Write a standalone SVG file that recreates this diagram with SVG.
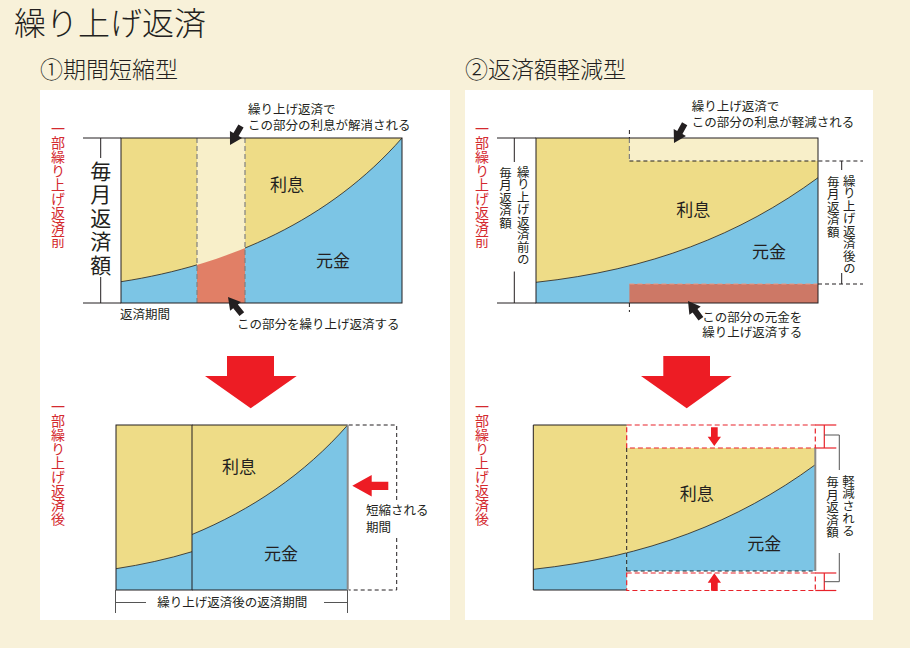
<svg xmlns="http://www.w3.org/2000/svg" width="910" height="648" viewBox="0 0 910 648">
<defs>
<style>
text{font-family:'Noto Sans CJK JP','Noto Sans',sans-serif;fill:#231f20}
.ttl{font-size:32px;font-weight:300}
.sub{font-size:23px;font-weight:300}
.lbl{font-size:17px}
.ann{font-size:12.5px}
.big{font-size:21px;letter-spacing:2.5px}
.red{fill:#d42a2f;font-size:14px}
.v{writing-mode:vertical-rl}
.mid{text-anchor:middle}
.yel{fill:#eedc87}
.blu{fill:#7cc5e5}
.pale{fill:#f8efc9}
.ln{stroke:#231f20;stroke-width:1;fill:none}
.dash{stroke:#231f20;stroke-width:1;stroke-dasharray:4 3;fill:none}
.gdash{stroke:#808080;stroke-width:1.2;stroke-dasharray:5 3;fill:none}
.rdash{stroke:#e8222a;stroke-width:1.2;stroke-dasharray:5 3;fill:none}
.pdash{stroke:#ec9a86;stroke-width:1.2;stroke-dasharray:5 3;fill:none}
.rln{stroke:#e8222a;stroke-width:1.2;fill:none}
.gln{stroke:#555;stroke-width:1;fill:none}
.edge{stroke:#8a8a8a;stroke-width:2;fill:none}
.curve{stroke:#231f20;stroke-width:0.8;fill:none}
.rarrow{fill:#ed1c24}
.barrow{fill:#231f20}
</style>
<clipPath id="clipBlueL"><path d="M121,303 L121,281.7 C230,265 330,220 402,138 L402,303 Z"/></clipPath>
<clipPath id="clipLeftBlock"><rect x="536" y="138" width="93.4" height="165"/></clipPath>
<clipPath id="clipRightBand"><rect x="629.4" y="161" width="188.6" height="123"/></clipPath>
<polygon id="barr" points="0,0 -12,-7 -12,-3 -22,-3 -22,3 -12,3 -12,7"/>
</defs>

<rect x="0" y="0" width="910" height="648" fill="#f8f1d9"/>

<g id="title">
<text class="ttl" x="14" y="35">繰り上げ返済</text>
<text class="sub" x="40" y="78">①期間短縮型</text>
<text class="sub" x="465" y="78">②返済額軽減型</text>
</g>

<g id="panel-left">
<rect x="40" y="90" width="410" height="530" fill="#ffffff"/>
<text class="red v" x="58" y="122">一部繰り上げ返済前</text>
<text class="red v" x="58" y="400">一部繰り上げ返済後</text>
</g>

<g id="panel-right">
<rect x="465" y="90" width="408" height="530" fill="#ffffff"/>
<text class="red v" x="482" y="122">一部繰り上げ返済前</text>
<text class="red v" x="482" y="400">一部繰り上げ返済後</text>
</g>

<g id="chart-period-before">
<rect class="yel" x="121" y="138" width="281" height="165"/>
<path class="blu" d="M121,303 L121,281.7 C230,265 330,220 402,138 L402,303 Z"/>
<path class="curve" d="M121,281.7 C230,265 330,220 402,138"/>
<rect class="pale" x="197" y="138" width="48" height="165"/>
<rect x="197" y="138" width="48" height="165" fill="#e17f66" clip-path="url(#clipBlueL)"/>
<line class="gdash" x1="197" y1="138" x2="197" y2="303"/>
<line class="gdash" x1="245" y1="138" x2="245" y2="303"/>
<rect class="ln" x="121" y="138" width="281" height="165"/>
<line class="ln" x1="83" y1="138" x2="121" y2="138"/>
<line class="ln" x1="83" y1="303" x2="121" y2="303"/>
<line class="ln" x1="100.7" y1="138" x2="100.7" y2="158"/>
<line class="ln" x1="100.7" y1="277" x2="100.7" y2="303"/>
<text class="big v" x="100.7" y="160.5">毎月返済額</text>
<text class="lbl mid" x="287" y="190.5">利息</text>
<text class="lbl mid" x="333" y="266.5">元金</text>
<text class="ann" x="120" y="318.5">返済期間</text>
<text class="ann" x="248" y="113.7">繰り上げ返済で</text>
<text class="ann" x="248" y="129.5">この部分の利息が解消される</text>
<text class="ann" x="237" y="328.5">この部分を繰り上げ返済する</text>
</g>

<g id="chart-period-after">
<rect class="yel" x="116" y="425" width="76" height="165"/>
<path class="blu" d="M116,590 L116,568.7 C142.16,564.69 167.8,559.05 192,551.7 L192,590 Z"/>
<path class="curve" d="M116,568.7 C142.16,564.69 167.8,559.05 192,551.7"/>
<rect class="yel" x="192" y="425" width="155.7" height="165"/>
<path class="blu" d="M192,590 L192,534.5 C251.26,510.08 304.54,474.2 347.7,425 L347.7,590 Z"/>
<path class="curve" d="M192,534.5 C251.26,510.08 304.54,474.2 347.7,425"/>
<rect class="ln" x="116" y="425" width="76" height="165"/>
<line class="ln" x1="192" y1="425" x2="347.7" y2="425"/>
<line class="ln" x1="192" y1="590" x2="347.7" y2="590"/>
<path class="dash" d="M348.7,425 H396.7 V590 H348.7"/>
<line class="edge" x1="347.7" y1="425" x2="347.7" y2="590"/>
<rect x="363" y="500" width="68" height="36" fill="#ffffff"/>
<text class="ann" x="366" y="515.3">短縮される</text>
<text class="ann" x="366" y="531.5">期間</text>
<text class="lbl mid" x="239" y="473">利息</text>
<text class="lbl mid" x="281" y="559.7">元金</text>
<line class="gln" x1="115.5" y1="590" x2="115.5" y2="613"/>
<line class="gln" x1="347.5" y1="590" x2="347.5" y2="613"/>
<line class="gln" x1="115.5" y1="602.5" x2="146" y2="602.5"/>
<line class="gln" x1="324" y1="602.5" x2="347.5" y2="602.5"/>
<text class="ann" x="157.3" y="606.5">繰り上げ返済後の返済期間</text>
</g>

<g id="chart-amount-before">
<rect class="yel" x="536" y="138" width="282" height="165"/>
<path class="blu" d="M536,303 L536,282.3 C650,270 740,235 818,177.7 L818,303 Z"/>
<path class="curve" d="M536,282.3 C650,270 740,235 818,177.7"/>
<rect class="pale" x="629.4" y="138" width="188.6" height="23"/>
<rect x="629.4" y="284" width="188.6" height="19" fill="#cd7866"/>
<line class="pdash" x1="629.4" y1="284" x2="818" y2="284"/>
<line class="gdash" x1="629.4" y1="138" x2="629.4" y2="161"/>
<rect class="ln" x="536" y="138" width="282" height="165"/>
<line class="dash" x1="629.4" y1="130" x2="629.4" y2="138"/>
<line class="dash" x1="629.4" y1="303" x2="629.4" y2="312"/>
<line class="dash" x1="629.4" y1="161" x2="863" y2="161"/>
<line class="dash" x1="818" y1="284" x2="863" y2="284"/>
<line class="ln" x1="497" y1="138" x2="536" y2="138"/>
<line class="ln" x1="497" y1="303" x2="536" y2="303"/>
<line class="ln" x1="514.3" y1="138" x2="514.3" y2="162"/>
<line class="ln" x1="514.3" y1="271.5" x2="514.3" y2="303"/>
<line class="ln" x1="841.7" y1="161" x2="841.7" y2="170"/>
<line class="ln" x1="841.7" y1="273" x2="841.7" y2="284"/>
<text class="ann v" x="523.3" y="165.5">繰り上げ返済前の</text>
<text class="ann v" x="505.5" y="166.5">毎月返済額</text>
<text class="ann v" x="849.3" y="174.5">繰り上げ返済後の</text>
<text class="ann v" x="833.3" y="175.5">毎月返済額</text>
<text class="lbl mid" x="693.3" y="215.5">利息</text>
<text class="lbl mid" x="769" y="258">元金</text>
<text class="ann" x="691.7" y="110.5">繰り上げ返済で</text>
<text class="ann" x="691.7" y="127">この部分の利息が軽減される</text>
<text class="ann" x="702.3" y="322">この部分の元金を</text>
<text class="ann" x="702.3" y="337">繰り上げ返済する</text>
</g>

<g id="chart-amount-after">
<g transform="translate(-2.7,287)">
<rect class="yel" x="536" y="138" width="93.4" height="165"/>
<path class="blu" clip-path="url(#clipLeftBlock)" d="M536,303 L536,282.3 C650,270 740,235 818,177.7 L818,303 Z"/>
<path class="curve" clip-path="url(#clipLeftBlock)" d="M536,282.3 C650,270 740,235 818,177.7"/>
<rect class="yel" x="629.4" y="161" width="188.6" height="123"/>
<path class="blu" clip-path="url(#clipRightBand)" d="M536,303 L536,282.3 C650,270 740,235 818,177.7 L818,303 Z"/>
<path class="curve" clip-path="url(#clipRightBand)" d="M536,282.3 C650,270 740,235 818,177.7"/>
<path class="ln" d="M629.4,138 H536 V303 H629.4"/>
<rect class="rdash" x="629.4" y="138" width="188.6" height="23"/>
<rect class="rdash" x="629.4" y="286" width="188.6" height="17.5"/>
<line class="dash" x1="629.4" y1="161" x2="629.4" y2="284"/>
<line class="dash" x1="629.4" y1="284" x2="818" y2="284"/>
<line class="edge" x1="818" y1="161" x2="818" y2="284"/>
<line class="rln" x1="818" y1="138" x2="839" y2="138"/>
<line class="rln" x1="818" y1="161" x2="839" y2="161"/>
<line class="rln" x1="818" y1="286" x2="839" y2="286"/>
<line class="rln" x1="818" y1="303.5" x2="839" y2="303.5"/>
<line class="rln" x1="827" y1="138" x2="827" y2="161"/>
<line class="rln" x1="827" y1="286" x2="827" y2="303.5"/>
<path class="gln" d="M827,148 H842 V183"/>
<path class="gln" d="M842,266 V294.7 H827"/>
</g>
<text class="ann v" x="848.5" y="474.5">軽減される</text>
<text class="ann v" x="832.5" y="476">毎月返済額</text>
<text class="lbl mid" x="696.7" y="500">利息</text>
<text class="lbl mid" x="764.3" y="549.7">元金</text>
</g>

<g id="connectors">
<polygon class="rarrow" points="227,356 274,356 274,376 296.7,376 250.7,408.3 205,376 227,376"/>
<polygon class="rarrow" points="663.3,356 710,356 710,376 731.7,376 686.7,408.3 641,376 663.3,376"/>
<polygon class="rarrow" points="352.3,485.7 371.7,475 371.7,481.7 388.3,481.7 388.3,490 371.7,490 371.7,496.5"/>
<polygon class="rarrow" points="711,427.3 717.7,427.3 717.7,436.7 721,436.7 714.3,446 707.7,436.7 711,436.7"/>
<polygon class="rarrow" points="714.3,573.3 721,582.7 717.7,582.7 717.7,590.7 711,590.7 711,582.7 707.7,582.7"/>
<use href="#barr" class="barrow" transform="translate(230,145) rotate(120)"/>
<use href="#barr" class="barrow" transform="translate(228,297) rotate(231)"/>
<use href="#barr" class="barrow" transform="translate(674,143) rotate(119)"/>
<use href="#barr" class="barrow" transform="translate(688,301) rotate(234)"/>
</g>
</svg>
